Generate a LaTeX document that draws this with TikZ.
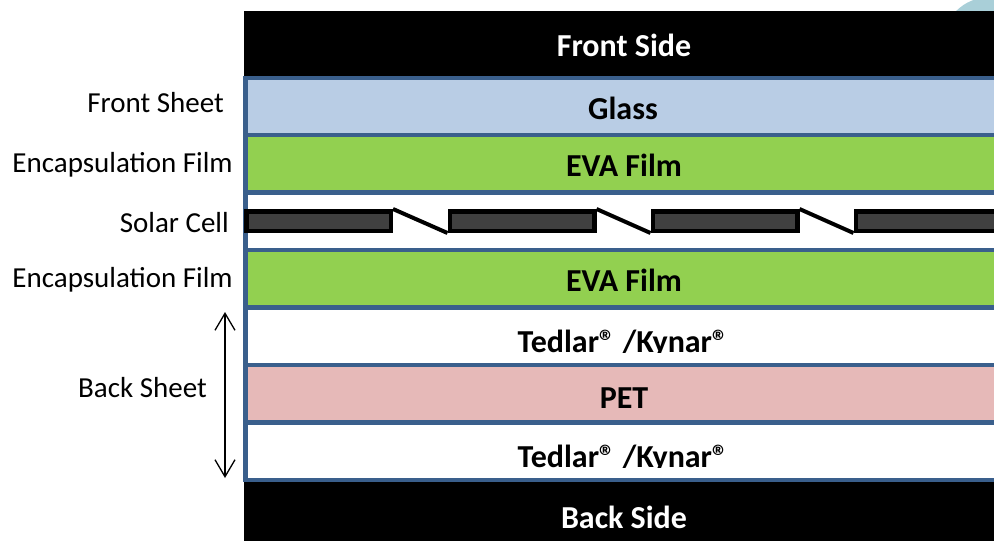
\documentclass[tikz,border=0pt]{standalone}
\usepackage{fontspec}
\setmainfont{Carlito}
\usetikzlibrary{arrows.meta}
\definecolor{bordblue}{HTML}{3A5F8C}
\definecolor{glassblue}{HTML}{B9CDE5}
\definecolor{evagreen}{HTML}{92D050}
\definecolor{petpink}{HTML}{E6B9B8}
\definecolor{cellgray}{HTML}{404040}
\definecolor{decoblue}{HTML}{A9CFD8}
\tikzset{
  layer/.style={draw=bordblue, line width=4.5pt},
  inlabel/.style={anchor=base, inner sep=0pt, font=\fontsize{32}{38}\selectfont\bfseries},
  sidelabel/.style={anchor=base east, inner sep=0pt, font=\fontsize{29}{34}\selectfont},
  cell/.style={draw=black, fill=cellgray, line width=4.5pt, rectangle, minimum width=144.5pt, minimum height=19.5pt, inner sep=0pt},
  wire/.style={draw=black, line width=4pt},
}
\begin{document}
\begin{tikzpicture}[x=1pt, y=-1pt]
\useasboundingbox (0,0) rectangle (994,541);
\clip (0,0) rectangle (994,541);
% decorative circle top right
\fill[decoblue] (990,45) circle (48);
% front and back sides
\fill[black] (244,11) rectangle (1010,75.5);
\fill[black] (244,482) rectangle (1010,541);
% layers
\draw[layer, fill=glassblue] (245.5,78) rectangle (1010,135);
\draw[layer, fill=evagreen] (245.5,135) rectangle (1010,192.5);
\draw[layer, fill=white] (245.5,192.5) rectangle (1010,250);
\draw[layer, fill=evagreen] (245.5,250) rectangle (1010,307.5);
\draw[layer, fill=white] (245.5,307.5) rectangle (1010,365);
\draw[layer, fill=petpink] (245.5,365) rectangle (1010,422.5);
\draw[layer, fill=white] (245.5,422.5) rectangle (1010,480);
% solar cells
\node[cell] (c1) at (318.5,221) {};
\node[cell] (c2) at (522,221) {};
\node[cell] (c3) at (725,221) {};
\node[cell] (c4) at (928,221) {};
\draw[wire] (c1.north east) -- (c2.south west);
\draw[wire] (c2.north east) -- (c3.south west);
\draw[wire] (c3.north east) -- (c4.south west);
% inner labels
\node[inlabel, text=white] (fs) at (624,56) {Front Side};
\node[inlabel] (gl) at (623,119) {Glass};
\node[inlabel] (eva1) at (624,176) {EVA Film};
\node[inlabel] (eva2) at (624,291) {EVA Film};
\begin{scope}
\clip (250,300) rectangle (1000,352.5);
\node[inlabel] (td1) at (623,352) {Tedlar® /Kynar®};
\end{scope}
\node[inlabel] (pet) at (624,408) {PET};
\begin{scope}
\clip (250,420) rectangle (1000,467.5);
\node[inlabel] (td2) at (623,467) {Tedlar® /Kynar®};
\end{scope}
\node[inlabel, text=white] (bs) at (624,528) {Back Side};
% side labels
\node[sidelabel] (l1) at (224,112) {Front Sheet};
\node[sidelabel] (l2) at (233,172) {Encapsulation Film};
\node[sidelabel] (l3) at (229,232) {Solar Cell};
\node[sidelabel] (l4) at (233,287) {Encapsulation Film};
\node[sidelabel] (l5) at (207,397) {Back Sheet};
% back sheet arrow
\coordinate (at) at (225,312);
\coordinate (ab) at (225,478);
\draw[line width=1.3pt, {Straight Barb[length=17pt, width=20pt]}-{Straight Barb[length=17pt, width=20pt]}] (at) -- (ab);
\end{tikzpicture}
\end{document}
